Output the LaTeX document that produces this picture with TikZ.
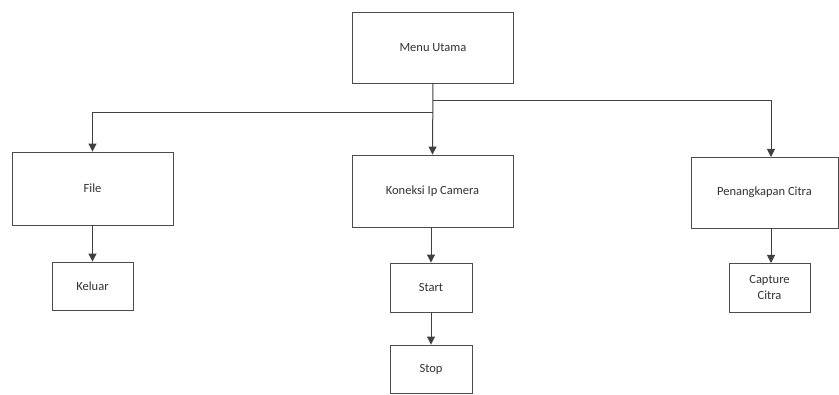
\documentclass[tikz,border=0pt]{standalone}
\usepackage{fontspec}
\setmainfont{Carlito}
\usetikzlibrary{arrows.meta}
\begin{document}
\begin{tikzpicture}[x=1pt,y=-1pt,
  box/.style={draw=black!70, line width=0.9pt, fill=white, inner sep=0pt, align=center, font=\fontsize{12.5}{16}\selectfont, text=black!80},
  conn/.style={draw=black!75, line width=1pt},
  arr/.style={conn, -{Triangle[length=8pt,width=8pt]}}]
\useasboundingbox (0,0) rectangle (839,395);
\node[box, minimum width=161pt, minimum height=71pt] (menu) at (433,47.5) {Menu Utama};
\node[box, minimum width=161pt, minimum height=73pt] (file) at (92.5,188.5) {File};
\node[box, minimum width=161pt, minimum height=72pt] (kon) at (432.5,191) {Koneksi Ip Camera};
\node[box, minimum width=147pt, minimum height=71pt] (pen) at (764.5,192.5) {Penangkapan Citra};
\node[box, minimum width=81pt, minimum height=48pt] (kel) at (92.5,286) {Keluar};
\node[box, minimum width=82pt, minimum height=49pt] (start) at (431,287.5) {Start};
\node[box, minimum width=82pt, minimum height=48pt] (stop) at (431,369) {Stop};
\node[box, minimum width=81pt, minimum height=49pt] (cap) at (769.5,287.5) {Capture\\Citra};
\coordinate (jl) at (433,113);
\coordinate (jr) at (433,101);
\draw[arr] (menu.south) -- (kon.north);
\draw[arr] (jl) -- (file.north |- jl) -- (file.north);
\draw[arr] (jr) -- (771,101) -- (771,157);
\draw[arr] (file.south) -- (kel.north);
\draw[arr] (kon.south -| start.north) -- (start.north);
\draw[arr] (start.south) -- (stop.north);
\draw[arr] (771,228) -- (771,263);
\end{tikzpicture}
\end{document}
